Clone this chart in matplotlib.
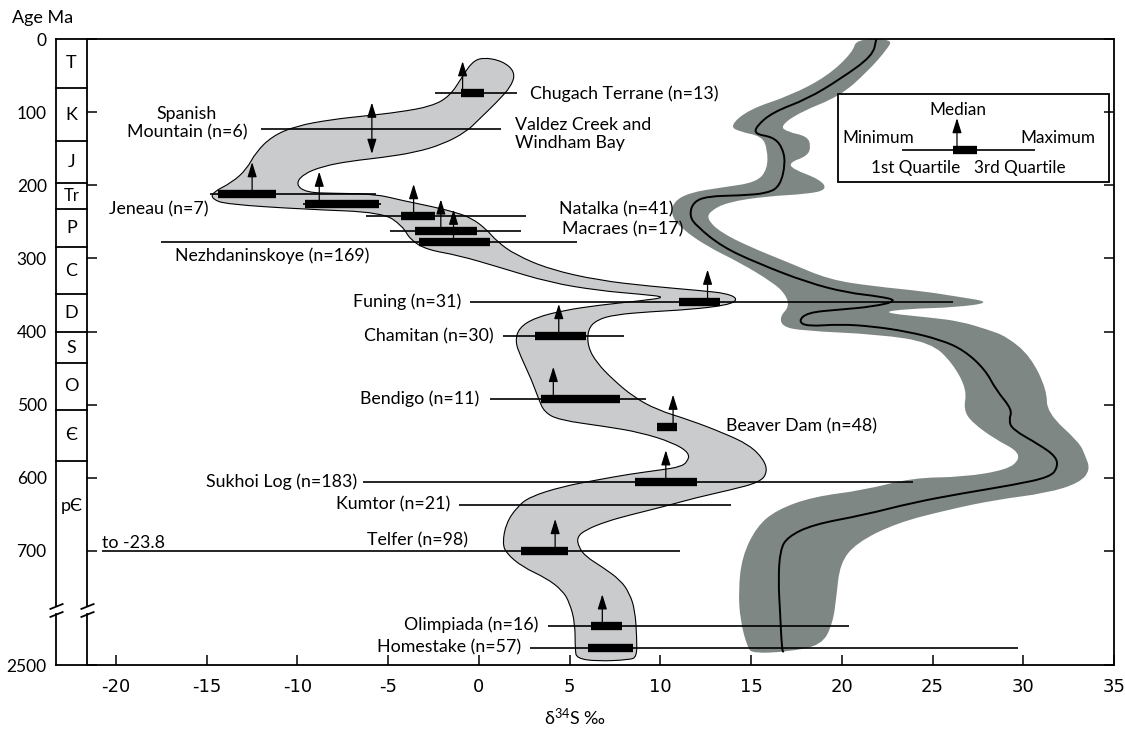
import numpy as np
import matplotlib
matplotlib.use('Agg')
import matplotlib.pyplot as plt
from matplotlib.path import Path
from matplotlib.patches import PathPatch
from matplotlib.transforms import blended_transform_factory, ScaledTranslation

plt.rcParams['font.family'] = ['Lato', 'DejaVu Sans']
plt.rcParams['mathtext.fontset'] = 'custom'
plt.rcParams['mathtext.rm'] = 'Lato'
plt.rcParams['mathtext.it'] = 'Lato:italic'

nan = np.nan

# ore deposits: age (Ma) and d34S statistics (per mil)
names = ['Chugach Terrane', 'Spanish Mountain', 'Valdez Creek', 'Jeneau', 'Natalka',
         'Macraes', 'Nezhdaninskoye', 'Funing', 'Chamitan', 'Bendigo', 'Beaver Dam',
         'Sukhoi Log', 'Kumtor', 'Telfer', 'Olimpiada', 'Homestake']
ages = [74, 123, 225, 212, 242, 263, 277, 359, 406, 492, 530, 606, 637, 700, 1300, 1980]
d_min = [-2.4, -12.0, -9.7, -14.8, -6.2, -4.9, -17.5, -0.5, 1.3, 0.6, 9.8, -6.4, -1.1, -23.8, 3.8, 2.8]
d_q1 = [-1.0, nan, -9.6, -14.4, -4.3, -3.5, -3.3, 11.0, 3.1, 3.4, 9.8, 8.6, nan, 2.3, 6.2, 6.0]
d_med = [-0.9, -5.9, -8.8, -12.5, -3.6, -2.1, -1.4, 12.6, 4.4, 4.1, 10.7, 10.3, nan, 4.2, 6.8, nan]
d_q3 = [0.3, nan, -5.5, -11.2, -2.4, -0.1, 0.6, 13.3, 5.9, 7.8, 10.9, 12.0, nan, 4.9, 7.9, 8.5]
d_max = [2.1, 1.2, -5.4, -5.7, 2.6, 2.3, 5.4, 26.1, 8.0, 9.2, 10.9, 23.9, 13.9, 11.1, 20.4, 29.7]
two_way = 'Spanish Mountain'
cut_min = -20.8  # Telfer minimum runs off the chart

label_text = ['Chugach Terrane (n=13)', 'Spanish\nMountain (n=6)', 'Valdez Creek and\nWindham Bay',
              'Jeneau (n=7)', 'Natalka (n=41)', 'Macraes (n=17)', 'Nezhdaninskoye (n=169)',
              'Funing (n=31)', 'Chamitan (n=30)', 'Bendigo (n=11)', 'Beaver Dam (n=48)',
              'Sukhoi Log (n=183)', 'Kumtor (n=21)', 'Telfer (n=98)', 'Olimpiada (n=16)',
              'Homestake (n=57)', 'to -23.8']
label_x = [2.8, -16.1, 2.0, -14.9, 4.4, 4.6, -11.4, -1.0, 0.8, 0.0, 13.6, -6.7, -1.6, -0.6, 3.3, 2.3, -20.8]
label_age = [75, 115, 130, 233, 233, 260, 296, 359, 406, 492, 530, 606, 637, 685, 1255, 1956, 689]
label_ha = ['left', 'center', 'left', 'right', 'left', 'left', 'center', 'right', 'right', 'right',
            'left', 'right', 'right', 'right', 'right', 'right', 'left']

# envelope of the ore deposit data
env_d34s = [0.2, 1.3, 2.0, 1.8, 1.0, 0.0, -0.7, -2.0, -3.5, -5.3, -7.1, -8.6, -9.7, -10.1, -9.5,
            -7.9, -5.7, -4.2, -2.6, -1.3, -0.4, 0.4, 1.0, 2.0, 3.9, 6.6, 9.4, 12.2, 13.7, 14.3,
            13.7, 11.6, 9.4, 7.5, 6.5, 6.0, 6.0, 6.5, 7.4, 8.5, 9.8, 11.6, 13.4, 14.9, 15.7,
            15.9, 15.5, 13.8, 12.0, 10.1, 8.3, 7.0, 5.9, 5.4, 5.5, 5.9, 6.8, 7.8, 8.3, 8.6,
            8.7, 8.7, 8.3, 6.5, 5.4, 5.3, 5.3, 5.0, 4.6, 3.7, 2.4, 1.5, 1.3, 1.5, 2.1, 2.8,
            4.6, 6.5, 8.3, 10.1, 11.1, 11.5, 11.6, 10.7, 8.9, 7.0, 4.4, 3.6, 3.3, 2.9, 2.3,
            2.0, 2.2, 3.1, 4.7, 6.6, 8.9, 10.4, 8.9, 6.6, 3.9, 1.1, -1.1, -2.9, -3.8, -4.2,
            -5.3, -9.5, -13.9, -14.7, -14.7, -13.6, -12.8, -12.3, -11.4, -10.1, -8.1, -6.2,
            -4.4, -2.6, -1.6, -0.9, -0.4]
env_age = [25, 30, 45, 64, 86, 110, 127, 144, 155, 162, 167, 174, 185, 199, 210,
           211, 212, 221, 229, 237, 245, 260, 277, 295, 315, 330, 338, 344, 348, 356,
           364, 370, 373, 377, 384, 397, 421, 443, 466, 489, 507, 521, 538, 555, 575,
           592, 606, 617, 627, 640, 651, 660, 671, 681, 695, 708, 722, 740, 758, 803,
           1640, 2250, 2340, 2385, 2295, 2045, 1210, 771, 754, 737, 722, 703, 689, 662, 640, 626,
           612, 603, 595, 589, 585, 578, 566, 552, 538, 530, 521, 510, 493, 466, 434,
           414, 395, 381, 371, 364, 358, 353, 349, 344, 333, 312, 296, 288, 274, 256,
           237, 233, 226, 219, 210, 196, 178, 155, 133, 119, 110, 105,
           100, 92, 78, 51, 32]

# seawater sulfate band and its mean curve
sw_d34s = [20.8, 20.6, 19.2, 17.1, 14.9, 13.8, 14.4, 15.6, 15.9, 15.9, 15.3, 13.4, 11.6, 10.7,
           10.6, 11.2, 12.6, 14.4, 16.2, 16.9, 17.1, 16.6, 16.7, 17.8, 22.1, 24.9, 26.1, 26.9,
           26.7, 27.2, 28.5, 29.6, 29.8, 29.1, 26.7, 23.9, 21.2, 18.4, 16.4, 15.3, 14.5, 14.3,
           14.4, 14.8, 15.1, 17.0, 18.9, 19.5, 19.7, 19.9, 20.8, 23.0, 25.8, 28.5, 31.3, 33.1,
           33.7, 33.4, 33.1, 31.3, 31.3, 30.4, 29.1, 28.0, 26.5, 24.9, 22.1, 23.6, 26.3, 28.3,
           26.3, 24.5, 21.7, 19.3, 17.1, 14.9, 13.3, 12.6, 12.7, 13.7, 15.9, 18.1, 19.2, 18.8,
           17.3, 17.1, 18.1, 18.3, 18.1, 17.0, 16.6, 17.7, 19.9, 21.4, 22.5, 22.8]
sw_age = [0, 18, 51, 78, 96, 119, 127, 133, 151, 178, 196, 203, 210, 223,
          242, 260, 284, 306, 333, 349, 366, 379, 393, 399, 404, 415, 443, 480,
          507, 525, 548, 562, 575, 589, 599, 600, 617, 626, 644, 667, 708, 754,
          1120, 1960, 2140, 2090, 1890, 1210, 763, 717, 689, 662, 644, 630, 621, 607,
          589, 569, 552, 511, 480, 434, 407, 397, 386, 381, 374, 369, 367, 360,
          352, 345, 338, 329, 306, 284, 264, 247, 236, 223, 215, 212, 206, 192,
          178, 169, 160, 147, 133, 127, 119, 100, 78, 45, 14, 0]
mean_d34s = [21.9, 21.7, 19.9, 18.1, 16.2, 15.3, 15.2, 16.2, 16.7, 16.9, 16.6, 15.9, 14.4, 12.6,
             11.8, 11.6, 12.0, 13.4, 15.3, 18.1, 20.3, 22.1, 23.1, 21.7, 19.9, 18.1, 17.6, 18.1,
             19.9, 21.7, 23.6, 25.4, 26.7, 27.9, 28.5, 29.4, 29.2, 29.4, 30.9, 31.8, 31.9, 31.5,
             29.4, 26.7, 23.9, 21.2, 18.4, 17.0, 16.6, 16.5, 16.6, 16.7, 16.8]
mean_age = [0, 23, 55, 82, 100, 119, 130, 134, 147, 169, 201, 211, 214, 215,
            223, 242, 256, 284, 306, 333, 347, 352, 358, 366, 370, 374, 386, 393,
            390, 393, 400, 411, 425, 452, 480, 507, 521, 534, 555, 571, 585, 599,
            610, 621, 634, 651, 664, 681, 699, 740, 893, 2050, 2100]

# geologic time scale column
period_names = ['T', 'K', 'J', 'Tr', 'P', 'C', 'D', 'S', 'O', 'Є', 'pЄ']
period_bounds = [0, 67, 140, 197, 232, 285, 349, 401, 443, 507, 577, 2500]
age_ticks = [0, 100, 200, 300, 400, 500, 600, 700, 2500]

# the age axis is compressed below the break
BRK = 780.0
K = 0.0442


def fwd(a):
    a = np.asarray(a, dtype=float)
    return np.where(a <= BRK, a, BRK + (a - BRK) * K)


def inv(c):
    c = np.asarray(c, dtype=float)
    return np.where(c <= BRK, c, BRK + (c - BRK) / K)


def smooth_path(xs, ys, closed):
    # quadratic bezier through the midpoints, traced points act as control points
    p = np.column_stack([xs, fwd(ys)])
    if closed:
        p = np.vstack([p, p[:2]])
        mids = (p[:-1] + p[1:]) / 2
        verts = [mids[0]]
        codes = [Path.MOVETO]
        for i in range(1, len(mids)):
            verts += [p[i], mids[i]]
            codes += [Path.CURVE3, Path.CURVE3]
    else:
        mids = (p[:-1] + p[1:]) / 2
        verts = [p[0], mids[0]]
        codes = [Path.MOVETO, Path.LINETO]
        for i in range(1, len(mids)):
            verts += [p[i], mids[i]]
            codes += [Path.CURVE3, Path.CURVE3]
        verts.append(p[-1])
        codes.append(Path.LINETO)
    verts = np.array(verts)
    verts[:, 1] = inv(verts[:, 1])
    return Path(verts, codes)


fig = plt.figure(figsize=(11.25, 7.32), dpi=100)
ax = fig.add_axes([87 / 1125, 67 / 732, 1027 / 1125, 626 / 732])
ax.set_yscale('function', functions=(fwd, inv))
ax.set_xlim(-21.6, 35)
ax.set_ylim(2500, 0)

ax.add_patch(PathPatch(smooth_path(sw_d34s, sw_age, True), facecolor='#7f8784', lw=0, zorder=1))
ax.add_patch(PathPatch(smooth_path(mean_d34s, mean_age, False), facecolor='none',
                       edgecolor='black', lw=1.4, zorder=2))
ax.add_patch(PathPatch(smooth_path(env_d34s, env_age, True), facecolor='#c9cbcc',
                       edgecolor='black', lw=0.8, zorder=1.5))

LW = 1.2
BAR = 6.0
FS = 12.8
HEAD = '<|-,head_length=0.9,head_width=0.28'


def arrow(x, y, dy, coords=None):
    kw = dict(arrowstyle=HEAD, color='black', lw=0.9, shrinkA=0, shrinkB=0, mutation_scale=10)
    ax.annotate('', xy=(x, y), xycoords=coords or 'data', xytext=(0, dy),
                textcoords='offset points', arrowprops=kw, zorder=5)


for i, name in enumerate(names):
    lo = max(d_min[i], cut_min)
    ax.hlines(ages[i], lo, d_max[i], colors='black', lw=LW, zorder=3, capstyle='butt')
    if not np.isnan(d_q1[i]):
        ax.hlines(ages[i], d_q1[i], d_q3[i], colors='black', lw=BAR, zorder=4, capstyle='butt')
    if not np.isnan(d_med[i]):
        if name == two_way:
            arrow(d_med[i], ages[i], 19)
            arrow(d_med[i], ages[i], -18)
        else:
            arrow(d_med[i], ages[i], 23)

for t, x, a, ha in zip(label_text, label_x, label_age, label_ha):
    ax.text(x, a, t, ha=ha, va='center', fontsize=FS, multialignment=ha, zorder=6)

# frame, ticks, broken left axis
for s in ('left', 'bottom'):
    ax.spines[s].set_visible(False)
for s in ('top', 'right'):
    ax.spines[s].set_linewidth(1.3)
ax.set_xticks(np.arange(-20, 36, 5))
ax.set_xticklabels([str(v) for v in range(-20, 36, 5)], family='Liberation Sans Narrow', fontsize=13)
ax.set_yticks(age_ticks)
ax.set_yticklabels([str(v) for v in age_ticks], fontsize=12.5)
ax.tick_params(axis='x', direction='in', length=7, width=1.1, pad=9, top=False)
ax.tick_params(axis='y', direction='in', length=7, width=1.1, pad=29, right=True)

col = blended_transform_factory(ax.transAxes, ax.transData)
col_left = -0.0302
gap_top = inv(BRK - 5)
gap_bot = inv(BRK + 6)
for x in (col_left, 0.0):
    ax.plot([x, x], [0, gap_top], color='black', lw=1.3, transform=col, clip_on=False, zorder=7)
    ax.plot([x, x], [gap_bot, 2500], color='black', lw=1.3, transform=col, clip_on=False, zorder=7)
    for dy in (-3.2, 2.2):
        ax.plot([x], [BRK], marker=[(-1, -0.4), (1, 0.4)], ms=10, mew=1.3, color='black',
                transform=col + ScaledTranslation(0, dy / 72, fig.dpi_scale_trans), clip_on=False,
                zorder=7)
ax.plot([col_left, 1], [2500, 2500], color='black', lw=1.3, transform=col, clip_on=False, zorder=7)
ax.plot([col_left, 0], [0, 0], color='black', lw=1.3, transform=col, clip_on=False, zorder=7)
for b in period_bounds[1:-1]:
    ax.plot([col_left, 0], [b, b], color='black', lw=1.3, transform=col, clip_on=False, zorder=7)
for i, p in enumerate(period_names):
    lo, hi = period_bounds[i], min(period_bounds[i + 1], 700)
    ax.text(col_left / 2, (lo + hi) / 2, p, transform=col, ha='center', va='center',
            fontsize=13 if p != 'Tr' else 12)

# key box
ax.add_patch(plt.Rectangle((0.7313, 0.7716), 0.2638, 0.1405, transform=ax.transAxes,
                           fill=False, lw=1.3, zorder=6))
ax.plot([0.7936, 0.9231], [0.8227, 0.8227], color='black', lw=LW, transform=ax.transAxes,
        solid_capstyle='butt', zorder=6)
ax.plot([0.8432, 0.8666], [0.8227, 0.8227], color='black', lw=BAR, transform=ax.transAxes,
        solid_capstyle='butt', zorder=6)
arrow(0.8471, 0.8227, 23, coords='axes fraction')
kt = dict(transform=ax.transAxes, fontsize=12.3, va='center', zorder=6)
ax.text(0.8481, 0.8866, 'Median', ha='center', **kt)
ax.text(0.7352, 0.8419, 'Minimum', ha='left', **kt)
ax.text(0.9815, 0.8419, 'Maximum', ha='right', **kt)
ax.text(0.8066, 0.7939, '1st Quartile', ha='center', **kt)
ax.text(0.9080, 0.7939, '3rd Quartile', ha='center', **kt)

fig.text(12 / 1125, 1 - 18 / 732, 'Age Ma', ha='left', va='center', fontsize=13)
fig.text(575 / 1125, 1 - 718 / 732, r'δ$^{34}$S ‰', ha='center', va='center', fontsize=13)

fig.savefig('out.png', dpi=100)
